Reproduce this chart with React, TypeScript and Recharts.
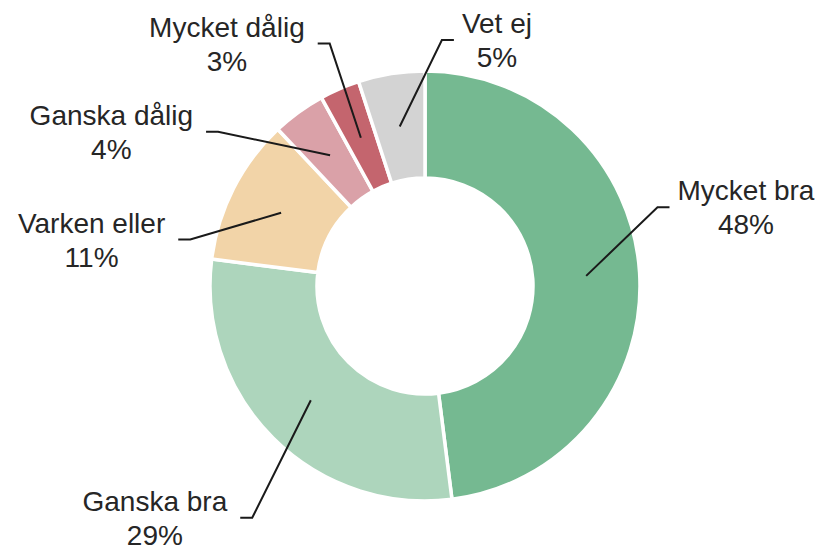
import React from 'react';
import { PieChart, Pie, Cell } from 'recharts';

const categories = ['Mycket bra', 'Ganska bra', 'Varken eller', 'Ganska dålig', 'Mycket dålig', 'Vet ej'];
const shares = [48, 29, 11, 4, 3, 5];
const COLORS = ['#75b991', '#add5bc', '#f2d4a8', '#daa1a8', '#c4656e', '#d3d3d3'];

// hand placed label elbows (offset from a point at radius 250 on the slice middle)
const LABEL_NUDGE: Array<[number, number]> = [
  [-17, -63],
  [4, 55],
  [-12, 67],
  [-60, 48],
  [4, -13],
  [56, 1],
];

const FONT = "'Liberation Sans', Arial, sans-serif";
const FONT_SIZE = 28;
const RADIAN = Math.PI / 180;

const data = categories.map((name, i) => ({ name, value: shares[i] }));

let ctx: CanvasRenderingContext2D | null = null;
const textWidth = (s: string) => {
  if (!ctx) {
    ctx = document.createElement('canvas').getContext('2d');
  }
  if (!ctx) return s.length * FONT_SIZE * 0.52;
  ctx.font = `${FONT_SIZE}px ${FONT}`;
  return ctx.measureText(s).width;
};

const renderLabel = (props: any) => {
  const { cx, cy, midAngle, innerRadius, outerRadius, index, name, percent } = props;
  const cos = Math.cos(-midAngle * RADIAN);
  const sin = Math.sin(-midAngle * RADIAN);
  const rMid = (innerRadius + outerRadius) / 2;
  const sx = cx + rMid * cos;
  const sy = cy + rMid * sin;
  const [nx, ny] = LABEL_NUDGE[index];
  const ex = cx + 250 * cos + nx;
  const ey = cy + 250 * sin + ny;
  const right = ex > sx;
  const tx = ex + (right ? 12 : -12);
  const pct = `${Math.round(percent * 100)}%`;
  const w = Math.max(textWidth(name), textWidth(pct));
  const center = right ? tx + 8 + w / 2 : tx - 13 - w / 2;
  return (
    <g key={`label-${index}`}>
      <polyline
        points={`${sx},${sy} ${ex},${ey} ${tx},${ey}`}
        fill="none"
        stroke="#1a1a1a"
        strokeWidth={2}
      />
      <text x={center} y={ey - 7} textAnchor="middle" fill="#262626" fontSize={FONT_SIZE} fontFamily={FONT}>
        {name}
      </text>
      <text x={center} y={ey + 27} textAnchor="middle" fill="#262626" fontSize={FONT_SIZE} fontFamily={FONT}>
        {pct}
      </text>
    </g>
  );
};

const App: React.FC = () => {
  return (
    <div style={{ position: 'absolute', left: 0, top: 0, width: 822, height: 547, background: '#fff' }}>
      <PieChart width={822} height={547} margin={{ top: 0, right: 0, bottom: 0, left: 0 }}>
        <Pie
          data={data}
          dataKey="value"
          nameKey="name"
          cx={425}
          cy={286}
          innerRadius={108}
          outerRadius={215}
          startAngle={90}
          endAngle={-270}
          stroke="#ffffff"
          strokeWidth={3.5}
          label={renderLabel}
          labelLine={false}
          isAnimationActive={false}
        >
          {data.map((entry, index) => (
            <Cell key={`cell-${index}`} fill={COLORS[index % COLORS.length]} />
          ))}
        </Pie>
      </PieChart>
    </div>
  );
};

export default App;
